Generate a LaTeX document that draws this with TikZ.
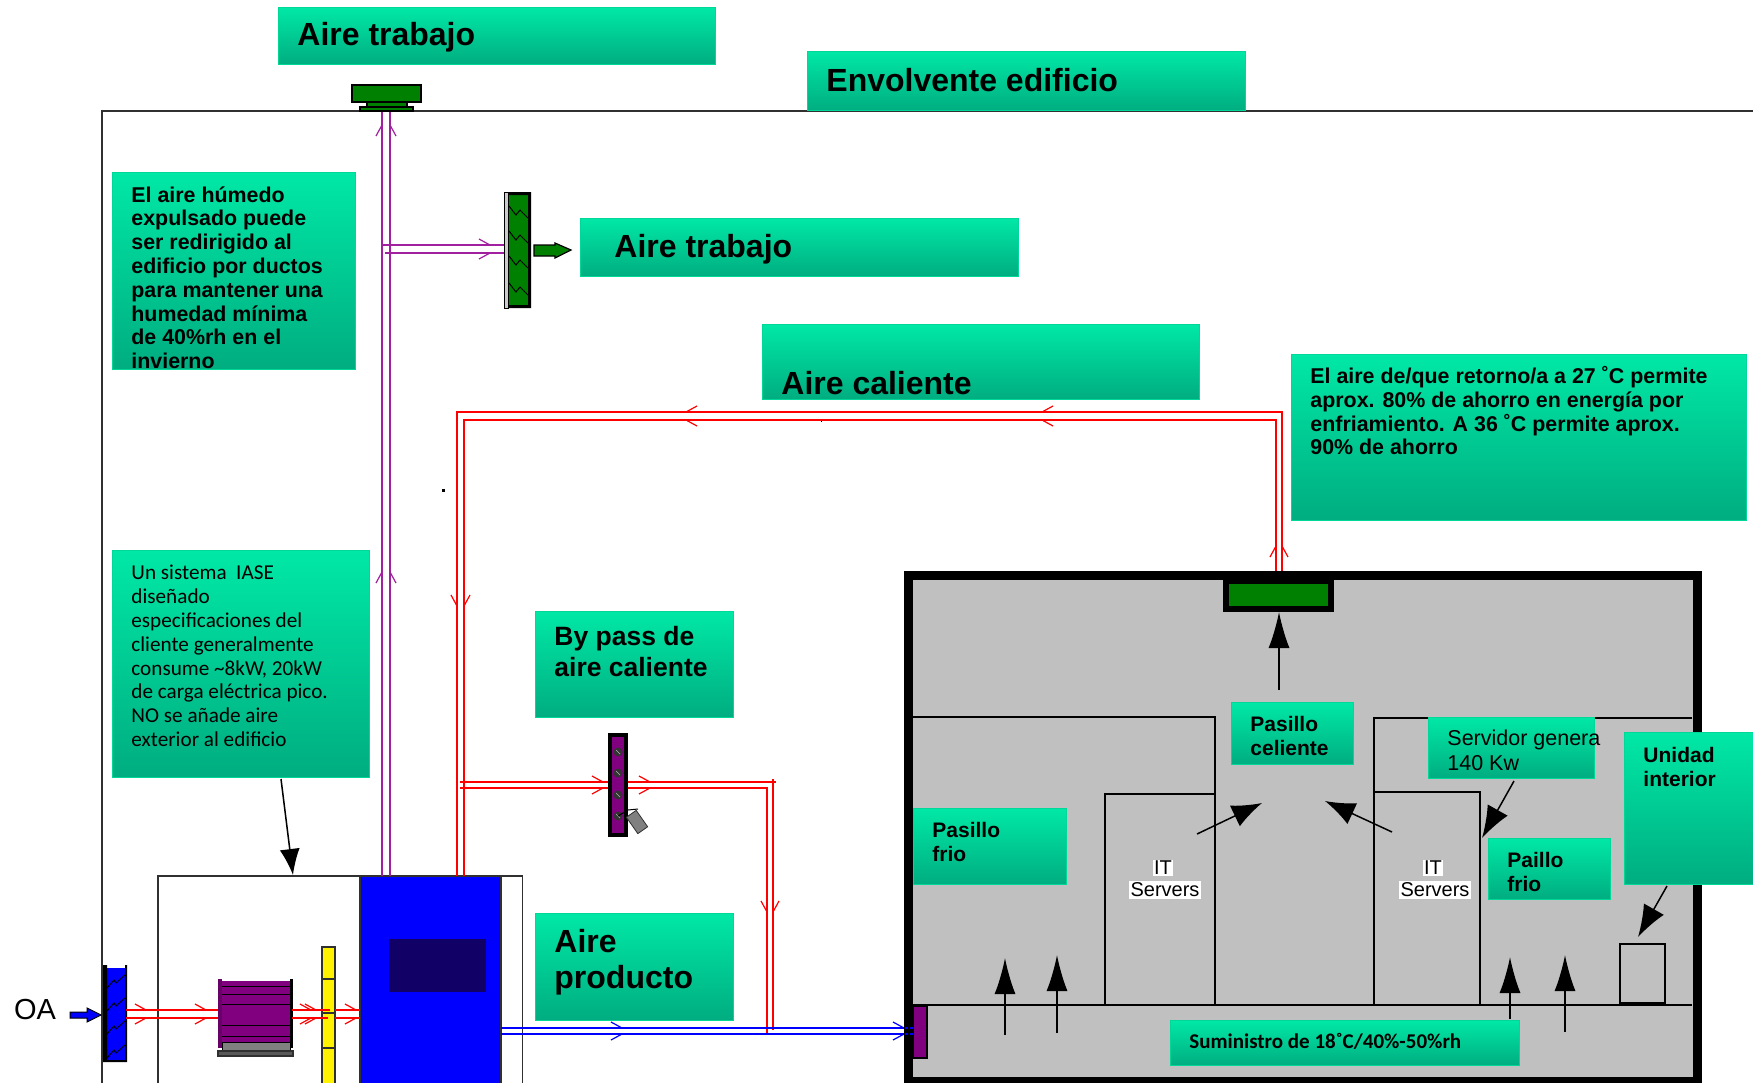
\documentclass[tikz,border=0pt]{standalone}
\usepackage{fontspec}
\setmainfont{Liberation Sans}
\newfontfamily\carl{Carlito}
\usetikzlibrary{arrows.meta}
\hfuzz=100pt
\definecolor{gtop}{HTML}{00E8A6}
\definecolor{gbot}{HTML}{00AD80}
\definecolor{gline}{HTML}{00D89A}
\definecolor{roomgrey}{HTML}{C0C0C0}
\definecolor{vio}{HTML}{800080}
\definecolor{pipev}{HTML}{A020A0}
\definecolor{dkgreen}{HTML}{008000}
\definecolor{navy}{HTML}{110066}
\definecolor{wall}{HTML}{303030}
\tikzset{
  gbox/.style={draw=gline,line width=1.6pt,top color=gtop,bottom color=gbot,inner sep=0pt,outer sep=0pt,text=black},
  wallline/.style={draw=wall,line width=1.8pt},
  redp/.style={draw=red,line width=1.5pt},
  violp/.style={draw=pipev,line width=1.5pt},
  bluep/.style={draw=blue,line width=1.7pt},
  part/.style={draw=black,line width=1.4pt},
  itlabel/.style={fill=white,inner sep=1.5pt,font=\fontsize{20}{22}\selectfont,text=black},
}
% name x1 y1 x2 y2 leftpad toppad content
\newcommand{\gb}[8]{%
  \pgfmathsetmacro{\gw}{#4-#2-0.8}\pgfmathsetmacro{\gh}{#5-#3-0.8}%
  \node[gbox] (#1) at ({(#2+#4)/2},{(#3+#5)/2})
   {\parbox[c][\gh pt][t]{\gw pt}{\vspace*{#7pt}\raggedright\leftskip=#6pt\rightskip=0pt plus 40pt\relax #8\par}};}
\newcommand{\arr}[7]{% name x1 y1 x2 y2 len wid
  \coordinate (#1a) at (#2,#3);\coordinate (#1b) at (#4,#5);
  \draw[line width=1.5pt,-{Latex[length=#6pt,width=#7pt]}] (#1a) -- (#1b);}
\newcommand{\chR}[4]{\draw[#4,line width=1.2pt] (#1-11,#2-6)--(#1,#2) (#1-11,#3+6)--(#1,#3);}
\newcommand{\chL}[4]{\draw[#4,line width=1.2pt] (#1+11,#2-6)--(#1,#2) (#1+11,#3+6)--(#1,#3);}
\newcommand{\chU}[4]{\draw[#4,line width=1.2pt] (#2-6,#1+11)--(#2,#1) (#3+6,#1+11)--(#3,#1);}
\newcommand{\chD}[4]{\draw[#4,line width=1.2pt] (#2-6,#1-11)--(#2,#1) (#3+6,#1-11)--(#3,#1);}
\begin{document}
\begin{tikzpicture}[x=1pt,y=-1pt]
\useasboundingbox (0,0) rectangle (1753,1082);
\fill[white] (0,0) rectangle (1753,1082);
% envelope
\draw[wallline] (102,1090) -- (102,111) -- (1760,111);
% unit
\draw[wallline] (158,1090) -- (158,876) -- (522.5,876) -- (522.5,1090);
\draw[wallline,fill=blue] (360,1090) -- (360,876) -- (501,876) -- (501,1090);
\fill[navy] (389,939) rectangle (486,992);
% OA
\node[font=\fontsize{29}{30}\selectfont,text=black,inner sep=0pt] (oa) at (35,1010) {OA};
\fill[blue] (107,968) rectangle (125,1062);
\fill[black] (103,965) rectangle (107,1062) (125,965) rectangle (127,1062) (103,1060) rectangle (127,1062);
\foreach \yy in {982,1005,1028,1052}
  \draw[black,line width=1pt] (107,\yy+6)--(114,\yy-2)--(116,\yy+1)--(125,\yy-7);
\coordinate (oaa) at (70,1015); \coordinate (oab) at (101,1015);
\draw[draw=black,fill=blue,line width=1pt] (70,1012)--(87,1012)--(87,1008)--(101,1015)--(87,1022)--(87,1018)--(70,1018)--cycle;
% red in unit
\draw[redp] (126,1010)--(218,1010) (126,1018)--(218,1018);
\chR{146}{1010}{1018}{red}\chR{206}{1010}{1018}{red}
% coil
\fill[vio] (222,981) rectangle (291,1042);
\draw[black,line width=1pt] (222,986)--(291,986) (222,994)--(291,994) (222,1004)--(291,1004) (222,1025)--(291,1025) (222,1036)--(291,1036);
\fill[vio!80!black] (218,979) rectangle (222,1048);
\fill[black] (290,979) rectangle (293,1048);
\draw[black,line width=1pt,fill=gray] (222,1042) rectangle (290,1051);
\draw[wall,line width=1.2pt,fill=gray!70!black] (218,1051) rectangle (293,1056);
% yellow
\draw[wall,line width=1.3pt,fill=yellow] (322,947) rectangle (335,1090);
\draw[wall,line width=1.2pt] (322,979)--(335,979) (322,1013)--(335,1013) (322,1048)--(335,1048);
\draw[redp] (292,1010)--(330,1010) (292,1018)--(328,1018) (335,1010)--(360,1010) (335,1018)--(360,1018);
\chR{316}{1010}{1018}{red}\chR{311}{1010}{1018}{red}\chR{356}{1010}{1018}{red}
% purple ducts
\draw[violp] (382,876)--(382,111) (390,876)--(390,111);
\draw[violp] (382,245)--(504,245) (385,253)--(504,253);
\chU{125}{382}{390}{pipev}\chU{572}{382}{390}{pipev}
\chR{490}{245}{253}{pipev}
% exhaust top
\draw[black,line width=1.2pt,fill=dkgreen] (360,107) rectangle (413,111);
\draw[black,line width=1.2pt,fill=dkgreen] (367,102) rectangle (407,107);
\draw[black,line width=1.2pt,fill=dkgreen] (352,85) rectangle (421,102);
% green damper
\fill[dkgreen] (509,194) rectangle (528,306);
\fill[black] (528,192) rectangle (531,308) (509,192) rectangle (528,195) (509,305) rectangle (528,308);
\draw[black,line width=1pt,fill=gray!40] (504,192) rectangle (508.5,308);
\foreach \yy in {213,238,263,290}
  \draw[black,line width=1pt] (509,\yy-7)--(516,\yy+2)--(520,\yy-3)--(528,\yy+5);
\draw[black,line width=1.2pt,fill=dkgreen] (534,245)--(555,245)--(555,243)--(571,250)--(555,258)--(555,256)--(534,256)--cycle;
% hot return
\draw[redp] (457,876)--(457,412)--(1282,412)--(1282,579);
\draw[redp] (464,876)--(464,420)--(1276,420)--(1276,579);
\chL{686}{412}{420}{red}\chL{1042}{412}{420}{red}
\chU{546}{1276}{1282}{red}
\chD{606}{457}{464}{red}
% bypass
\draw[redp] (460,782)--(608,782) (460,788)--(608,788);
\draw[redp] (628,782)--(773,782)--(773,1030);
\draw[redp] (628,788)--(767,788)--(767,1034);
\draw[red,line width=1.2pt] (773,779)--(773,785) (770,782)--(776,782);
\chR{603}{782}{788}{red}\chR{650}{782}{788}{red}
\chD{912}{767}{773}{red}
% damper
\draw[black,line width=3.5pt,fill=vio] (610,735) rectangle (626,835);
\foreach \yy in {752,773,795,816}{
  \fill[black!80] (618,\yy) circle (4.5);
  \draw[white!70!black,line width=.7pt] (616,\yy-2)--(620,\yy+2);}
\draw[black,line width=1pt] (618,816)--(628,810)--(638,809);
\draw[wall,line width=.8pt,fill=gray,rotate around={35:(637,822)}] (631,812) rectangle (643,832);
% blue supply
\draw[bluep] (501,1028)--(904,1028) (501,1034)--(904,1034);
\chR{622}{1028}{1034}{blue}\chR{904}{1028}{1034}{blue}
% data room
\draw[black,line width=9pt,fill=roomgrey] (908.5,575.5) rectangle (1697,1081);
\draw[part] (913,717)--(1215,717)--(1215,1005);
\draw[part] (1105,1005)--(1105,794)--(1215,794);
\draw[part] (1692,718)--(1374,718)--(1374,1005);
\draw[part] (1374,792)--(1480,792)--(1480,1005);
\draw[part] (913,1005)--(1692,1005);
\draw[black,line width=2.2pt] (913,1005)--(1215,1005);
\draw[part] (1620,944) rectangle (1665,1003);
\draw[black,line width=1.2pt,fill=vio] (913,1006) rectangle (927,1058);
\draw[blue,line width=1.5pt] (905,1028)--(908,1028) (910,1028)--(913,1028) (905,1034)--(908,1034) (910,1034)--(913,1034);
% return grille
\draw[black,line width=6pt,fill=dkgreen] (1226,581) rectangle (1331,609);
% labels IT
\node[itlabel] (it1) at (1163,868) {IT};
\node[itlabel] (sv1) at (1165,890) {Servers};
\node[itlabel] (it2) at (1433,868) {IT};
\node[itlabel] (sv2) at (1435,890) {Servers};
% green boxes
\gb{b1}{278}{7}{716}{65}{19}{15}{\fontsize{32}{36}\selectfont\bfseries Aire trabajo}
\gb{b2}{807}{51}{1246}{111}{19}{17}{\fontsize{32}{36}\selectfont\bfseries Envolvente edificio}
\gb{b3}{580}{218}{1019}{277}{34}{16}{\fontsize{32}{36}\selectfont\bfseries Aire trabajo}
\gb{b4}{762}{324}{1200}{400}{19}{47}{\fontsize{32}{36}\selectfont\bfseries Aire caliente}
\gb{n1}{112}{172}{356}{370}{19}{14}{\fontsize{21.4}{23.8}\selectfont\bfseries El aire húmedo\\expulsado puede\\ser redirigido al\\edificio por ductos\\para mantener una\\humedad mínima\\de 40\%rh en el\\invierno}
\gb{n2}{1291}{354}{1747}{521}{19}{12}{\fontsize{21.4}{23.8}\selectfont\bfseries El aire de/que retorno/a a 27 ˚C permite\\aprox. 80\% de ahorro en energía por\\enfriamiento. A 36 ˚C permite aprox.\\90\% de ahorro}
\gb{n3}{112}{550}{370}{778}{19}{15}{\carl\fontsize{21.2}{23.8}\selectfont Un sistema\ \ IASE\\diseñado\\especificaciones del\\cliente generalmente\\consume \textasciitilde8kW, 20kW\\de carga eléctrica pico.\\NO se añade aire\\exterior al edificio}
\gb{b5}{535}{611}{734}{718}{19}{15}{\fontsize{26.5}{31}\selectfont\bfseries By pass de\\aire caliente}
\gb{b6}{535}{913}{734}{1021}{19}{16}{\fontsize{32}{36}\selectfont\bfseries Aire\\producto}
\gb{b7}{913}{808}{1067}{885}{19}{14}{\fontsize{21}{24}\selectfont\bfseries Pasillo\\frio}
\gb{b8}{1231}{702}{1354}{765}{19}{14}{\fontsize{21}{24}\selectfont\bfseries Pasillo\\celiente}
\gb{b9}{1428}{717}{1595}{779}{19}{13}{\fontsize{21.5}{25}\selectfont\mbox{Servidor genera}\\140 Kw}
\gb{b10}{1624}{732}{1760}{885}{19}{15}{\fontsize{21}{24}\selectfont\bfseries Unidad\\interior}
\gb{b11}{1488}{838}{1611}{900}{19}{14}{\fontsize{21}{24}\selectfont\bfseries Paillo\\frio}
\gb{b12}{1170}{1020}{1520}{1066}{19}{13}{\carl\fontsize{21}{24}\selectfont\bfseries Suministro de 18˚C/40\%-50\%rh}
% black arrows
\arr{a1}{1279}{690}{1279}{612}{36}{21}
\arr{a2}{1197}{834}{1262}{803}{30}{23}
\arr{a3}{1392}{832}{1325}{801}{30}{23}
\arr{a4}{1514}{781}{1482}{838}{32}{23}
\arr{a5}{1667}{886}{1638}{937}{32}{23}
\arr{a6}{1510}{1019}{1510}{957}{36}{21}
\arr{a7}{1565}{1032}{1565}{955}{36}{21}
\arr{a8}{1005}{1035}{1005}{958}{36}{21}
\arr{a9}{1057}{1033}{1057}{955}{36}{21}
\arr{a10}{281}{779}{293}{875}{26}{20}
% stray dots
\fill[black] (441.5,488.5) rectangle (444.5,491.5);
\fill[black] (820.5,420.5) rectangle (821.5,421.5);
\end{tikzpicture}
\end{document}
